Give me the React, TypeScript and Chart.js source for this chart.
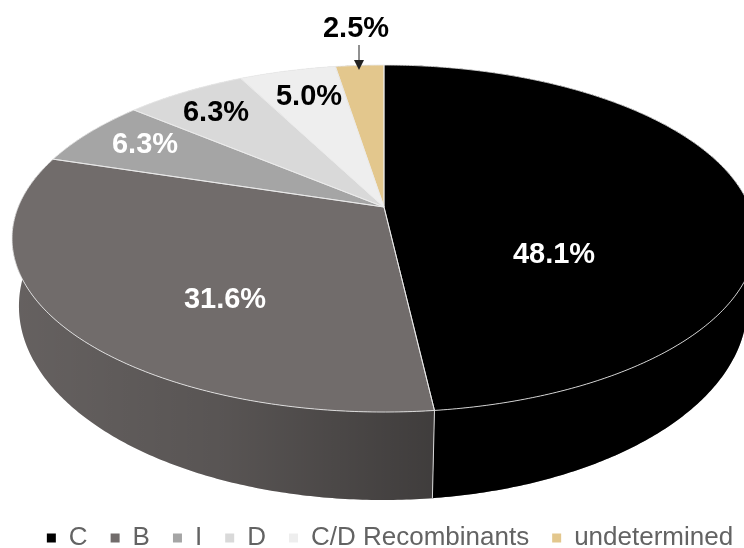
import React, { useEffect, useRef } from "react";
import { Chart, registerables } from "chart.js";

Chart.register(...registerables);

const categories = ["C", "B", "I", "D", "C/D Recombinants", "undetermined"];
const shares = [48.1, 31.6, 6.3, 6.3, 5.0, 2.5];
const sliceColors = ["#000000", "#716c6b", "#a5a5a5", "#d9d9d9", "#eeeeee", "#e3c78d"];
const labelColors = ["#ffffff", "#ffffff", "#ffffff", "#000000", "#000000", "#000000"];

// perspective disc: ellipse widths/heights of the top and bottom faces
const K = -0.1816;
const TOP = { cx: 384, cy: 207, ax: 365.8, ay: 167.8 };
const BOTTOM = { cx: 383, cy: 271, ax: 358, ay: 187.4 };
const LABEL_POS: [number, number][] = [
  [554, 255],
  [225, 300],
  [145, 145],
  [216, 113],
  [309, 97],
  [356, 29],
];

type Face = typeof TOP;
const project = (f: Face, a: number): [number, number] => {
  const X = Math.cos(a);
  const Y = Math.sin(a);
  const w = 1 + K * Y;
  return [f.cx + (f.ax * X) / w, f.cy + (f.ay * Y) / w];
};

const arcPts = (f: Face, a0: number, a1: number) => {
  const n = Math.max(4, Math.ceil(Math.abs(a1 - a0) / 0.01));
  const pts: [number, number][] = [];
  for (let i = 0; i <= n; i++) pts.push(project(f, a0 + ((a1 - a0) * i) / n));
  return pts;
};

const piePlugin = {
  id: "perspectivePie",
  afterLayout(chart: any) {
    chart.legend.top = 502;
    chart.legend.left += 18;
    chart.legend.right += 18;
  },
  beforeDatasetDraw() {
    return false;
  },
  afterDatasetsDraw(chart: any) {
    const ctx: CanvasRenderingContext2D = chart.ctx;
    const arcs = chart.getDatasetMeta(0).data;
    ctx.save();
    ctx.lineJoin = "round";

    // side wall
    arcs.forEach((arc: any) => {
      const top = arcPts(TOP, arc.startAngle, arc.endAngle);
      const bot = arcPts(BOTTOM, arc.startAngle, arc.endAngle).reverse();
      ctx.beginPath();
      [...top, ...bot].forEach(([x, y], i) => (i ? ctx.lineTo(x, y) : ctx.moveTo(x, y)));
      ctx.closePath();
      ctx.fillStyle = arc.options.backgroundColor;
      ctx.fill();
      const g = ctx.createLinearGradient(13, 0, 434, 0);
      g.addColorStop(0, "rgba(0,0,0,0.10)");
      g.addColorStop(0.5, "rgba(0,0,0,0.22)");
      g.addColorStop(1, "rgba(0,0,0,0.44)");
      ctx.fillStyle = g;
      ctx.fill();
    });
    // seam between the two visible wall slices
    const seam = arcs[0].endAngle;
    const [sx0, sy0] = project(TOP, seam);
    const [sx1, sy1] = project(BOTTOM, seam);
    ctx.strokeStyle = "#d8d8d8";
    ctx.lineWidth = 1;
    ctx.beginPath();
    ctx.moveTo(sx0, sy0);
    ctx.lineTo(sx1, sy1);
    ctx.stroke();

    // top face
    arcs.forEach((arc: any) => {
      const pts = arcPts(TOP, arc.startAngle, arc.endAngle);
      ctx.beginPath();
      ctx.moveTo(TOP.cx, TOP.cy);
      pts.forEach(([x, y]) => ctx.lineTo(x, y));
      ctx.closePath();
      ctx.fillStyle = arc.options.backgroundColor;
      ctx.fill();
    });
    arcs.forEach((arc: any) => {
      const pts = arcPts(TOP, arc.startAngle, arc.endAngle);
      ctx.beginPath();
      ctx.moveTo(TOP.cx, TOP.cy);
      pts.forEach(([x, y]) => ctx.lineTo(x, y));
      ctx.closePath();
      ctx.strokeStyle = "rgba(235,235,235,0.85)";
      ctx.lineWidth = 1;
      ctx.stroke();
    });

    // value labels
    ctx.font = 'bold 29px "Liberation Sans"';
    ctx.textAlign = "center";
    ctx.textBaseline = "middle";
    shares.forEach((v, i) => {
      ctx.fillStyle = labelColors[i];
      ctx.fillText(v.toFixed(1) + "%", LABEL_POS[i][0], LABEL_POS[i][1]);
    });

    // arrow to the smallest slice
    ctx.strokeStyle = "#222222";
    ctx.fillStyle = "#222222";
    ctx.lineWidth = 1;
    ctx.beginPath();
    ctx.moveTo(359, 45);
    ctx.lineTo(359, 61);
    ctx.stroke();
    ctx.beginPath();
    ctx.moveTo(354, 60);
    ctx.lineTo(364, 60);
    ctx.lineTo(359, 70);
    ctx.closePath();
    ctx.fill();
    ctx.restore();
  },
};

export default function App() {
  const ref = useRef<HTMLCanvasElement>(null);
  useEffect(() => {
    const chart = new Chart(ref.current!, {
      type: "pie",
      data: {
        labels: categories,
        datasets: [{ data: shares, backgroundColor: sliceColors, borderWidth: 0 }],
      },
      options: {
        animation: false,
        responsive: false,
        plugins: {
          tooltip: { enabled: false },
          legend: {
            position: "bottom",
            labels: {
              boxWidth: 9,
              boxHeight: 9,
              padding: 23,
              color: "#636363",
              font: { family: "Liberation Sans", size: 26 },
            },
          },
        },
      },
      plugins: [piePlugin],
    } as any);
    return () => chart.destroy();
  }, []);
  return (
    <div style={{ position: "fixed", left: 0, top: 0, width: 744, height: 548, background: "#fff" }}>
      <canvas ref={ref} width={744} height={548} style={{ display: "block", filter: "blur(0.5px)" }} />
    </div>
  );
}
